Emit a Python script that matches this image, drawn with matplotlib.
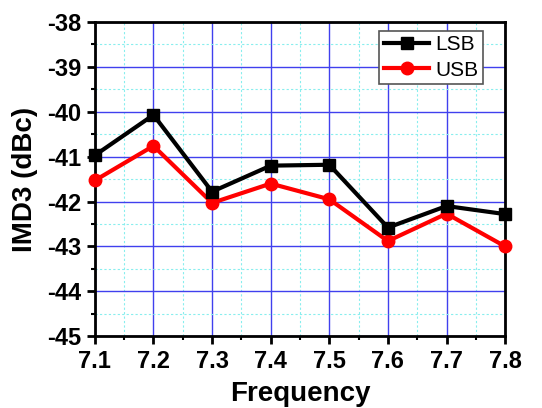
import numpy as np
import matplotlib.pyplot as plt
from matplotlib.ticker import MultipleLocator

plt.rcParams['font.family'] = ['Liberation Sans', 'DejaVu Sans']
plt.rcParams['axes.unicode_minus'] = False

freq = [7.1, 7.2, 7.3, 7.4, 7.5, 7.6, 7.7, 7.8]
lsb = [-40.97, -40.07, -41.78, -41.20, -41.18, -42.58, -42.10, -42.28]
usb = [-41.53, -40.76, -42.03, -41.60, -41.95, -42.88, -42.27, -43.00]

fig = plt.figure(figsize=(5.42, 4.08), dpi=100)
ax = fig.add_axes([0.175, 0.176, 0.757, 0.770])

ax.plot(freq, lsb, color='black', lw=3, marker='s', ms=8, label='LSB', clip_on=False, zorder=4)
ax.plot(freq, usb, color='red', lw=3, marker='o', ms=9, label='USB', clip_on=False, zorder=3)

ax.set_xlim(7.1, 7.8)
ax.set_ylim(-45, -38)
ax.xaxis.set_major_locator(MultipleLocator(0.1))
ax.xaxis.set_minor_locator(MultipleLocator(0.05))
ax.yaxis.set_major_locator(MultipleLocator(1))
ax.yaxis.set_minor_locator(MultipleLocator(0.5))

ax.grid(which='major', color='#4040ee', lw=1.0)
ax.grid(which='minor', color='#88eeee', lw=0.8, ls=(0, (2, 2)))
ax.set_axisbelow(True)

for s in ax.spines.values():
    s.set_linewidth(2)
ax.tick_params(which='major', length=6, width=2, labelsize=17, pad=4)
ax.tick_params(which='minor', length=3, width=1.5)
for lab in ax.get_xticklabels() + ax.get_yticklabels():
    lab.set_fontweight('bold')

ax.set_xlabel('Frequency', fontsize=20, fontweight='bold', labelpad=6)
ax.set_ylabel('IMD3 (dBc)', fontsize=20, fontweight='bold', labelpad=6)

leg = ax.legend(loc='upper right', bbox_to_anchor=(0.946, 0.971), borderaxespad=0,
                fontsize=15, fancybox=False, framealpha=1, edgecolor='#555555',
                handlelength=2.2, borderpad=0.2, labelspacing=0.3, handletextpad=0.3)
leg.get_frame().set_linewidth(1.2)

fig.savefig('out.png', dpi=100)
